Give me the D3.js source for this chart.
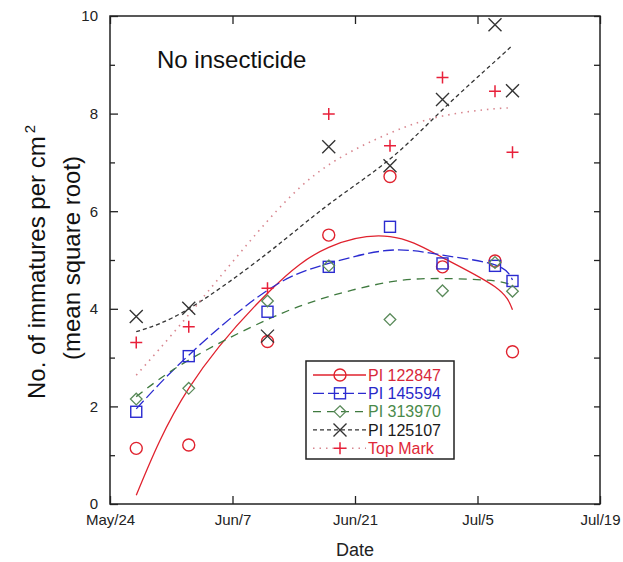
<!DOCTYPE html>
<html>
<head>
<meta charset="utf-8">
<script src="https://cdn.jsdelivr.net/npm/d3@7"></script>
<style>
  body { margin: 0; background: #fff; }
  svg { font-family: "Liberation Sans", Arial, sans-serif; }
</style>
</head>
<body>
<svg id="chart" width="623" height="562"></svg>
<script>
// sampling dates
const dates = ["2011-05-27", "2011-06-02", "2011-06-11", "2011-06-18", "2011-06-25", "2011-07-01", "2011-07-07", "2011-07-09"];

// observed means
const pi122847 = [1.14, 1.21, 3.33, 5.51, 6.71, 4.86, 4.98, 3.12];
const pi145594 = [1.89, 3.03, 3.94, 4.86, 5.68, 4.93, 4.88, 4.57];
const pi313970 = [2.15, 2.37, 4.16, 4.88, 3.78, 4.37, 4.95, 4.36];
const pi125107 = [3.84, 4.01, 3.44, 7.32, 6.93, 8.29, 9.82, 8.47];
const topMark  = [3.31, 3.63, 4.42, 7.99, 7.34, 8.74, 8.46, 7.21];

// fitted curves at the same dates
const fit122847 = [0.18, 2.37, 4.32, 5.26, 5.48, 5.05, 4.45, 3.98];
const fit145594 = [1.95, 3.05, 4.38, 4.93, 5.20, 5.10, 4.90, 4.59];
const fit313970 = [2.20, 2.95, 3.78, 4.25, 4.55, 4.62, 4.57, 4.46];
const fit125107 = [3.53, 4.00, 5.14, 6.14, 7.07, 8.08, 9.07, 9.40];
const fitTopMark = [2.64, 3.88, 5.80, 6.95, 7.60, 7.95, 8.10, 8.11];

const seriesNames = ["PI 122847", "PI 145594", "PI 313970", "PI 125107", "Top Mark"];
const xTicks = ["2011-05-24", "2011-06-07", "2011-06-21", "2011-07-05", "2011-07-19"];
const yMajor = [0, 2, 4, 6, 8, 10];
const yMinor = [1, 3, 5, 7, 9];

const parse = d3.timeParse("%Y-%m-%d");
const svg = d3.select("#chart");
const mLeft = 110, mTop = 16, w = 490, h = 488;

const x = d3.scaleTime().domain([parse(xTicks[0]), parse(xTicks[4])]).range([mLeft, mLeft + w]);
const y = d3.scaleLinear().domain([0, 10]).range([mTop + h, mTop]);

const styles = [
  { vals: pi122847, fit: fit122847, color: "#e0222e", line: "#e0222e", text: "#d8283a", dash: null, mark: "circle" },
  { vals: pi145594, fit: fit145594, color: "#2b2bd0", line: "#2b2bd0", text: "#2828c8", dash: "11,4", mark: "square" },
  { vals: pi313970, fit: fit313970, color: "#5a8a5a", line: "#3f7a3f", text: "#4a8a4a", dash: "8,6", mark: "diamond" },
  { vals: pi125107, fit: fit125107, color: "#333", line: "#333", text: "#1a1a1a", dash: "4,3", mark: "x" },
  { vals: topMark, fit: fitTopMark, color: "#e8203a", line: "#d8868f", text: "#e02838", dash: "1.5,5", mark: "plus" }
];

function marker(g, kind, cx, cy, color) {
  const s = 5.8;
  if (kind === "circle") {
    g.append("circle").attr("cx", cx).attr("cy", cy).attr("r", 6)
      .attr("fill", "none").attr("stroke", color).attr("stroke-width", 1.4);
  } else if (kind === "square") {
    g.append("rect").attr("x", cx - 5.5).attr("y", cy - 5.5).attr("width", 11).attr("height", 11)
      .attr("fill", "none").attr("stroke", color).attr("stroke-width", 1.4);
  } else if (kind === "diamond") {
    g.append("path").attr("d", `M${cx},${cy - s}L${cx + s},${cy}L${cx},${cy + s}L${cx - s},${cy}Z`)
      .attr("fill", "none").attr("stroke", color).attr("stroke-width", 1.3);
  } else if (kind === "x") {
    g.append("path").attr("d", `M${cx - 6.5},${cy - 6.5}L${cx + 6.5},${cy + 6.5}M${cx - 6.5},${cy + 6.5}L${cx + 6.5},${cy - 6.5}`)
      .attr("stroke", color).attr("stroke-width", 1.4);
  } else {
    g.append("path").attr("d", `M${cx - 6},${cy}L${cx + 6},${cy}M${cx},${cy - 6}L${cx},${cy + 6}`)
      .attr("stroke", color).attr("stroke-width", 1.5);
  }
}

// fitted lines
const lineGen = d3.line()
  .x((d, i) => x(parse(dates[i])))
  .y(d => y(d))
  .curve(d3.curveNatural);

styles.forEach(s => {
  svg.append("path")
    .attr("d", lineGen(s.fit))
    .attr("fill", "none")
    .attr("stroke", s.line)
    .attr("stroke-width", s.mark === "plus" ? 1.6 : 1.3)
    .attr("stroke-dasharray", s.dash);
});

// points
const pts = svg.append("g");
styles.forEach(s => {
  s.vals.forEach((v, i) => marker(pts, s.mark, x(parse(dates[i])), y(v), s.color));
});

// axes (ticks point inward)
const axG = svg.append("g");
axG.append("g").attr("transform", `translate(${mLeft},0)`)
  .call(d3.axisLeft(y).tickValues(yMajor).tickSize(-8).tickPadding(12).tickFormat(d3.format("d")));
axG.append("g").attr("transform", `translate(${mLeft},0)`)
  .call(d3.axisLeft(y).tickValues(yMinor).tickSize(-5).tickFormat(""));
axG.append("g").attr("transform", `translate(${mLeft + w},0)`)
  .call(d3.axisRight(y).tickValues(yMajor.concat(yMinor)).tickSize(-6).tickFormat(""));
axG.append("g").attr("transform", `translate(0,${mTop + h})`)
  .call(d3.axisBottom(x).tickValues(xTicks.map(parse)).tickSize(-8).tickPadding(10).tickFormat(d3.timeFormat("%b/%-d")));
axG.append("g").attr("transform", `translate(0,${mTop})`)
  .call(d3.axisTop(x).tickValues(xTicks.map(parse)).tickSize(-8).tickFormat(""));
axG.selectAll(".domain").remove();
axG.selectAll("g").attr("font-size", null).attr("font-family", null);
axG.attr("font-size", 15);
axG.selectAll("text").attr("fill", "#222");
axG.selectAll("line").attr("stroke", "#222").attr("stroke-width", 1.3);

svg.append("rect")
  .attr("x", mLeft).attr("y", mTop).attr("width", w).attr("height", h)
  .attr("fill", "none").attr("stroke", "#222").attr("stroke-width", 1.5);

// titles
svg.append("text").attr("x", 157).attr("y", 68)
  .attr("font-size", 24).attr("fill", "#111").text("No insecticide");

svg.append("text").attr("x", 355).attr("y", 556)
  .attr("text-anchor", "middle").attr("font-size", 18).attr("fill", "#222").text("Date");

const yl = svg.append("text")
  .attr("transform", "translate(45,262) rotate(-90)")
  .attr("text-anchor", "middle").attr("font-size", 24).attr("fill", "#111");
yl.append("tspan").text("No. of immatures per cm");
yl.append("tspan").attr("dx", 3).attr("dy", "-0.7em").attr("font-size", 15).text("2");
svg.append("text")
  .attr("transform", "translate(80,258) rotate(-90)")
  .attr("text-anchor", "middle").attr("font-size", 24).attr("fill", "#111")
  .text("(mean square root)");

// legend
const lg = svg.append("g");
lg.append("rect").attr("x", 306).attr("y", 361).attr("width", 148).attr("height", 98)
  .attr("fill", "#fff").attr("stroke", "#222").attr("stroke-width", 1.5);
styles.forEach((s, i) => {
  const ly = 375 + i * 18.3;
  lg.append("line").attr("x1", 313).attr("x2", 366).attr("y1", ly).attr("y2", ly)
    .attr("stroke", s.line).attr("stroke-width", s.mark === "plus" ? 1.6 : 1.3)
    .attr("stroke-dasharray", s.dash);
  marker(lg, s.mark, 340, ly, s.color);
  lg.append("text").attr("x", 368).attr("y", ly).attr("dy", "0.36em")
    .attr("font-size", 16).attr("fill", s.text).text(seriesNames[i]);
});
</script>
</body>
</html>
